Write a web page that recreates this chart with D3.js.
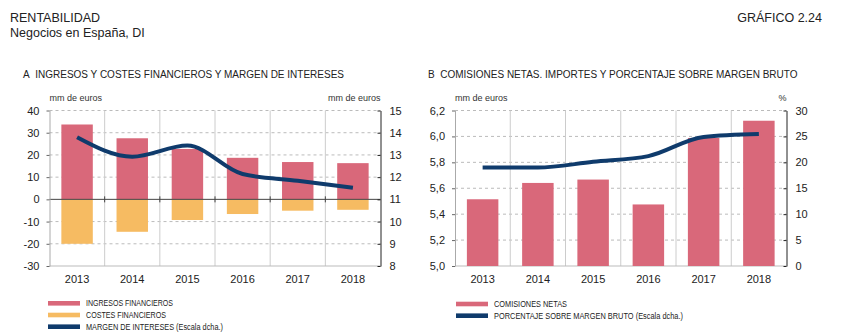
<!DOCTYPE html>
<html>
<head>
<meta charset="utf-8">
<script src="https://cdn.jsdelivr.net/npm/d3@7"></script>
<style>
  body { margin: 0; background: #fff; }
  text { font-family: "Liberation Sans", Arial, Helvetica, sans-serif; fill: #222; }
  .legend text { font-family: "Liberation Sans Narrow", "Liberation Sans", Arial, sans-serif; }
</style>
</head>
<body>
<svg width="859" height="335"></svg>
<script>
var years = ["2013", "2014", "2015", "2016", "2017", "2018"];

// panel A
var ingresos = [33.7, 27.5, 22.7, 18.7, 16.8, 16.3];
var costes = [-20.0, -14.6, -9.3, -6.6, -5.1, -4.7];
var margen = [13.8, 12.92, 13.42, 12.14, 11.84, 11.52];
var ticksA = [-30, -20, -10, 0, 10, 20, 30, 40];
var ticksARight = [8, 9, 10, 11, 12, 13, 14, 15];

// panel B
var comisiones = [5.515, 5.641, 5.667, 5.475, 5.988, 6.121];
var porcentaje = [19.0, 19.0, 20.1, 21.2, 24.9, 25.45];
var ticksB = [5.0, 5.2, 5.4, 5.6, 5.8, 6.0, 6.2];
var ticksBRight = [0, 5, 10, 15, 20, 25, 30];

var red = "#d9687a", orange = "#f6bb62", navy = "#0f3b6c";
var fmtInt = function (d) { return String(d); };  // plain hyphen for negatives
var fmtComma = function (d) { return d.toFixed(1).replace(".", ","); };

var svg = d3.select("svg");

// headings
svg.append("text").attr("x", 10).attr("y", 22).style("font-size", "12.5px").text("RENTABILIDAD");
svg.append("text").attr("x", 10).attr("y", 37).style("font-size", "12.5px").text("Negocios en España, DI");
svg.append("text").attr("x", 822).attr("y", 22).attr("text-anchor", "end").style("font-size", "12.5px").text("GRÁFICO 2.24");

svg.append("text").attr("x", 23).attr("y", 78).style("font-size", "10px")
    .text("A\u00a0\u00a0INGRESOS Y COSTES FINANCIEROS Y MARGEN DE INTERESES");
svg.append("text").attr("x", 428).attr("y", 78).style("font-size", "10px")
    .text("B\u00a0\u00a0COMISIONES NETAS. IMPORTES Y PORCENTAJE SOBRE MARGEN BRUTO");

var plotTop = 110.5, plotBottom = 266;

function panel(opt) {
    var g = svg.append("g");
    var x = d3.scaleBand().domain(years).range([opt.x0, opt.x1])
        .paddingInner(0.43).paddingOuter(0.215);
    var y = d3.scaleLinear().domain(opt.yDomain).range([plotBottom, plotTop]);
    var y2 = d3.scaleLinear().domain(opt.y2Domain).range([plotBottom, plotTop]);
    var half = (x.step() - x.bandwidth()) / 2;

    // horizontal dashed grid
    g.selectAll(".hgrid").data(opt.ticks.filter(function (d) { return d !== opt.yDomain[0] && d !== opt.zero; }))
        .enter().append("line")
        .attr("x1", opt.x0).attr("x2", opt.x1)
        .attr("y1", function (d) { return y(d); }).attr("y2", function (d) { return y(d); })
        .style("stroke", "#bbb").style("stroke-dasharray", "3,3").style("stroke-width", 1);

    // vertical category separators
    g.selectAll(".vgrid").data(years.slice(1)).enter().append("line")
        .attr("x1", function (d) { return x(d) - half; }).attr("x2", function (d) { return x(d) - half; })
        .attr("y1", plotTop).attr("y2", plotBottom)
        .style("stroke", "#ccc").style("stroke-width", 1);

    // bottom edge
    g.append("line").attr("x1", opt.x0).attr("x2", opt.x1).attr("y1", plotBottom).attr("y2", plotBottom)
        .style("stroke", "#bbb");

    // bars
    opt.bars.forEach(function (b) {
        g.selectAll(null).data(b.values).enter().append("rect")
            .attr("x", function (d, i) { return x(years[i]); })
            .attr("width", x.bandwidth())
            .attr("y", function (d) { return y(Math.max(d, opt.base)); })
            .attr("height", function (d) { return Math.abs(y(d) - y(opt.base)); })
            .style("fill", b.color);
    });

    // zero line with small ticks at separators
    if (opt.zero !== undefined) {
        g.append("line").attr("x1", opt.x0).attr("x2", opt.x1)
            .attr("y1", y(opt.zero)).attr("y2", y(opt.zero))
            .style("stroke", "#444").style("stroke-width", 1);
        g.selectAll(".ztick").data(years.slice(1)).enter().append("line")
            .attr("x1", function (d) { return x(d) - half; }).attr("x2", function (d) { return x(d) - half; })
            .attr("y1", y(opt.zero) - 3).attr("y2", y(opt.zero) + 3)
            .style("stroke", "#444");
    }

    // line series on right scale
    var line = d3.line()
        .x(function (d, i) { return x(years[i]) + x.bandwidth() / 2; })
        .y(function (d) { return y2(d); })
        .curve(d3.curveMonotoneX);
    g.append("path").datum(opt.line)
        .attr("d", line)
        .style("fill", "none").style("stroke", navy).style("stroke-width", 4)
        .style("stroke-linejoin", "round");

    // left axis
    var ax = g.append("g").attr("transform", "translate(" + opt.x0 + ",0)")
        .call(d3.axisLeft(y).tickValues(opt.ticks).tickSize(3).tickSizeOuter(0).tickPadding(7).tickFormat(opt.fmt));
    ax.select(".domain").style("stroke", "#aaa");
    ax.selectAll(".tick line").style("stroke", "#666");
    ax.selectAll("text").style("font-size", "11px").style("fill", "#222").style("font-family", "Liberation Sans, Arial, sans-serif");

    // right axis
    var ar = g.append("g").attr("transform", "translate(" + opt.x1 + ",0)")
        .call(d3.axisRight(y2).tickValues(opt.ticks2).tickSize(-3).tickSizeOuter(0).tickPadding(9).tickFormat(fmtInt));
    ar.select(".domain").style("stroke", "#222");
    ar.selectAll(".tick line").style("stroke", "#222");
    ar.selectAll("text").style("font-size", "11px").style("fill", "#222").style("font-family", "Liberation Sans, Arial, sans-serif");

    // category labels
    g.selectAll(".yr").data(years).enter().append("text")
        .attr("x", function (d) { return x(d) + x.bandwidth() / 2; })
        .attr("y", 283).attr("text-anchor", "middle").style("font-size", "11px")
        .text(function (d) { return d; });

    // unit labels
    g.append("text").attr("x", opt.x0).attr("y", 101).style("font-size", "9px").style("fill", "#333").text(opt.unitL);
    g.append("text").attr("x", opt.x1).attr("y", 101).attr("text-anchor", "end").style("font-size", "9px").style("fill", "#333").text(opt.unitR);
}

panel({
    x0: 49.5, x1: 380.5,
    yDomain: [-30, 40], y2Domain: [8, 15],
    ticks: ticksA, ticks2: ticksARight, zero: 0, base: 0,
    fmt: fmtInt,
    bars: [{ values: ingresos, color: red }, { values: costes, color: orange }],
    line: margen,
    unitL: "mm de euros", unitR: "mm de euros"
});

panel({
    x0: 455, x1: 786.5,
    yDomain: [5.0, 6.2], y2Domain: [0, 30],
    ticks: ticksB, ticks2: ticksBRight, base: 5.0,
    fmt: fmtComma,
    bars: [{ values: comisiones, color: red }],
    line: porcentaje,
    unitL: "mm de euros", unitR: "%"
});

// legends
function legend(x, y0, items) {
    var lg = svg.append("g").attr("class", "legend");
    items.forEach(function (it, i) {
        var yy = y0 + i * 11.7;
        lg.append("rect").attr("x", x).attr("y", yy - 2.3).attr("width", 32).attr("height", 4.6)
            .style("fill", it.color);
        lg.append("text").attr("x", x + 38).attr("y", yy + 3)
            .attr("textLength", it.w).attr("lengthAdjust", "spacingAndGlyphs")
            .style("font-size", "8.5px").style("fill", "#222").text(it.label);
    });
}

legend(48, 303.3, [
    { label: "INGRESOS FINANCIEROS", color: red, w: 87 },
    { label: "COSTES FINANCIEROS", color: orange, w: 80 },
    { label: "MARGEN DE INTERESES (Escala dcha.)", color: navy, w: 137 }
]);
legend(456, 304, [
    { label: "COMISIONES NETAS", color: red, w: 73 },
    { label: "PORCENTAJE SOBRE MARGEN BRUTO (Escala dcha.)", color: navy, w: 189 }
]);
</script>
</body>
</html>
